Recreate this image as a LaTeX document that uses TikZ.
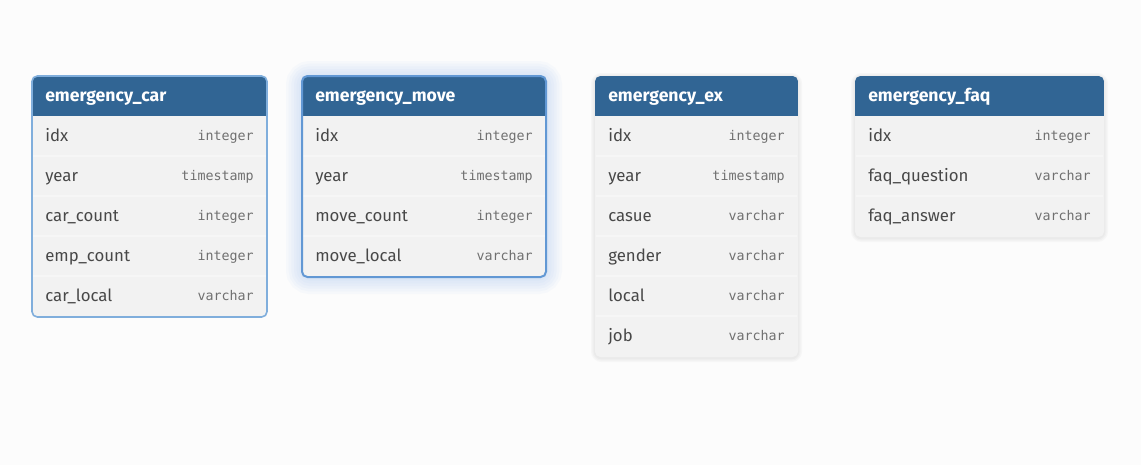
\documentclass[tikz,border=0pt]{standalone}
\usepackage{fontspec}
\setmainfont{Fira Sans}
\setmonofont{DejaVu Sans Mono}
\usetikzlibrary{positioning}
\definecolor{pagebg}{RGB}{252,252,252}
\definecolor{headblue}{RGB}{49,101,148}
\definecolor{rowgray}{RGB}{242,242,242}
\definecolor{rowline}{RGB}{246,246,246}
\definecolor{namecolor}{RGB}{72,72,72}
\definecolor{typecolor}{RGB}{112,112,112}
\definecolor{selborder}{RGB}{128,174,220}
\definecolor{activeborder}{RGB}{98,152,212}
\definecolor{glowblue}{RGB}{120,170,230}
\definecolor{shadowgray}{RGB}{150,150,150}

\begin{document}
\begin{tikzpicture}[
    x=0.75pt, y=-0.75pt,
    tablebody/.style={fill=rowgray, rounded corners=4},
    tablehead/.style={fill=headblue},
    headtext/.style={anchor=base west, inner sep=0pt, text=white, font=\fontsize{13.2}{15}\selectfont\bfseries},
    fieldname/.style={anchor=base west, inner sep=0pt, text=namecolor, font=\fontsize{12.6}{15}\selectfont},
    fieldtype/.style={anchor=base east, inner sep=0pt, text=typecolor, font=\fontsize{10}{12}\ttfamily},
    sepline/.style={draw=rowline, line width=1},
    softshadow/.style={draw=shadowgray, rounded corners=5, opacity=0.06}
]
    % page
    \fill[pagebg] (0,0) rectangle (1141,465);
    \useasboundingbox (0,0) rectangle (1141,465);

    % shadows and glow
    \foreach \w in {2,4,6} {
        \draw[softshadow, line width=\w] (595,77) rectangle (798,358);
        \draw[softshadow, line width=\w] (855,77) rectangle (1104,238);
    }
    \foreach \w in {4,8,12,16,20,24} {
        \draw[glowblue, opacity=0.045, line width=\w, rounded corners=6] (302,77) rectangle (546,278);
    }

    % emergency_car
    \fill[tablebody] (32,76) rectangle (267,317);
    \begin{scope}
        \clip[rounded corners=4] (32,76) rectangle (267,317);
        \fill[tablehead] (32,76) rectangle (267,116);
    \end{scope}
    \foreach \y in {156,196,236,276} \draw[sepline] (33,\y) -- (266,\y);
    \draw[selborder, line width=1.2, rounded corners=4] (32,76) rectangle (267,317);
    \node[headtext] (carhead) at (45,101) {emergency\_car};
    \node[fieldname] (caridx) at (45,141) {idx};
    \node[fieldtype] (caridxtype) at (254,140) {integer};
    \node[fieldname] (caryear) at (45,181) {year};
    \node[fieldtype] (caryeartype) at (254,180) {timestamp};
    \node[fieldname] (carcount) at (45,221) {car\_count};
    \node[fieldtype] (carcounttype) at (254,220) {integer};
    \node[fieldname] (caremp) at (45,261) {emp\_count};
    \node[fieldtype] (caremptype) at (254,260) {integer};
    \node[fieldname] (carlocal) at (45,301) {car\_local};
    \node[fieldtype] (carlocaltype) at (254,300) {varchar};

    % emergency_move
    \fill[tablebody] (302,76) rectangle (546,277);
    \begin{scope}
        \clip[rounded corners=4] (302,76) rectangle (546,277);
        \fill[tablehead] (302,76) rectangle (546,116);
    \end{scope}
    \foreach \y in {156,196,236} \draw[sepline] (303,\y) -- (545,\y);
    \draw[activeborder, line width=1.5, rounded corners=4] (302,76) rectangle (546,277);
    \node[headtext] (movehead) at (315,101) {emergency\_move};
    \node[fieldname] (moveidx) at (315,141) {idx};
    \node[fieldtype] (moveidxtype) at (533,140) {integer};
    \node[fieldname] (moveyear) at (315,181) {year};
    \node[fieldtype] (moveyeartype) at (533,180) {timestamp};
    \node[fieldname] (movecount) at (315,221) {move\_count};
    \node[fieldtype] (movecounttype) at (533,220) {integer};
    \node[fieldname] (movelocal) at (315,261) {move\_local};
    \node[fieldtype] (movelocaltype) at (533,260) {varchar};

    % emergency_ex
    \fill[tablebody] (595,76) rectangle (798,357);
    \begin{scope}
        \clip[rounded corners=4] (595,76) rectangle (798,357);
        \fill[tablehead] (595,76) rectangle (798,116);
    \end{scope}
    \foreach \y in {156,196,236,276,316} \draw[sepline] (596,\y) -- (797,\y);
    \node[headtext] (exhead) at (608,101) {emergency\_ex};
    \node[fieldname] (exidx) at (608,141) {idx};
    \node[fieldtype] (exidxtype) at (785,140) {integer};
    \node[fieldname] (exyear) at (608,181) {year};
    \node[fieldtype] (exyeartype) at (785,180) {timestamp};
    \node[fieldname] (excasue) at (608,221) {casue};
    \node[fieldtype] (excasuetype) at (785,220) {varchar};
    \node[fieldname] (exgender) at (608,261) {gender};
    \node[fieldtype] (exgendertype) at (785,260) {varchar};
    \node[fieldname] (exlocal) at (608,301) {local};
    \node[fieldtype] (exlocaltype) at (785,300) {varchar};
    \node[fieldname] (exjob) at (608,341) {job};
    \node[fieldtype] (exjobtype) at (785,340) {varchar};

    % emergency_faq
    \fill[tablebody] (855,76) rectangle (1104,237);
    \begin{scope}
        \clip[rounded corners=4] (855,76) rectangle (1104,237);
        \fill[tablehead] (855,76) rectangle (1104,116);
    \end{scope}
    \foreach \y in {156,196} \draw[sepline] (856,\y) -- (1103,\y);
    \node[headtext] (faqhead) at (868,101) {emergency\_faq};
    \node[fieldname] (faqidx) at (868,141) {idx};
    \node[fieldtype] (faqidxtype) at (1091,140) {integer};
    \node[fieldname] (faqquestion) at (868,181) {faq\_question};
    \node[fieldtype] (faqquestiontype) at (1091,180) {varchar};
    \node[fieldname] (faqanswer) at (868,221) {faq\_answer};
    \node[fieldtype] (faqanswertype) at (1091,220) {varchar};
\end{tikzpicture}
\end{document}
